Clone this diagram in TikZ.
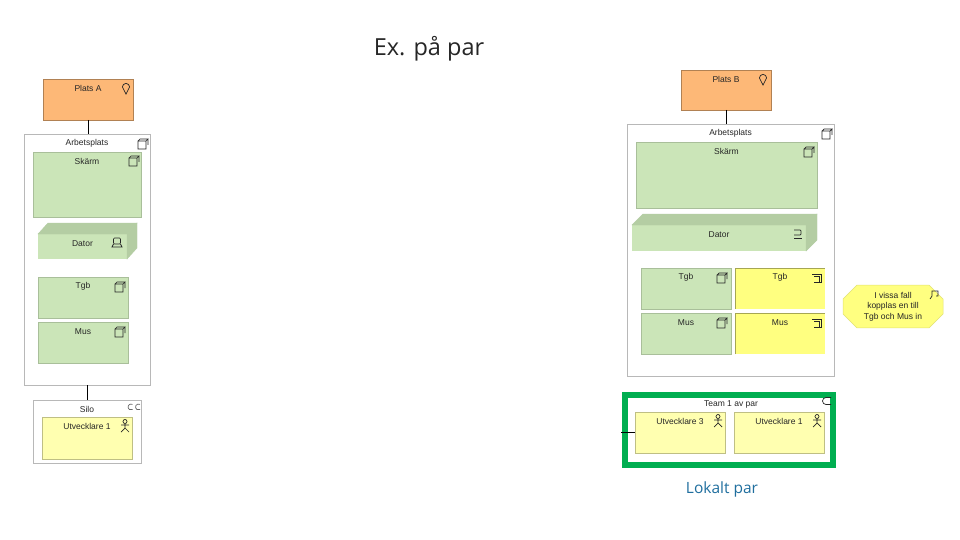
\documentclass[tikz,border=0pt]{standalone}
\usepackage{fontspec}
\setmainfont{Liberation Sans}
\newfontfamily\titlefont{Open Sans}
\usetikzlibrary{shapes.misc,calc}
\definecolor{platsc}{HTML}{FDB877}
\definecolor{gronc}{HTML}{CBE5B8}
\definecolor{gronm}{HTML}{B4CDA3}
\definecolor{gronk}{HTML}{A9BF9A}
\definecolor{gulc}{HTML}{FFFF80}
\definecolor{blekc}{HTML}{FFFFB0}
\definecolor{ramc}{HTML}{00AE50}
\definecolor{blac}{HTML}{1F6E9E}
\tikzset{
  boxbase/.style={anchor=north west,inner sep=0pt,outer sep=0pt,line width=0.9pt},
  boxlabel/.style={label={[anchor=center,yshift=-9.5pt,inner sep=0pt,font=\fontsize{8.5}{10}\selectfont,text=black!85]north:#1}},
  platsbox/.style={boxbase,fill=platsc,draw=black!30!platsc,boxlabel=#1},
  vitbox/.style={boxbase,fill=white,draw=black!28,boxlabel=#1},
  gronbox/.style={boxbase,fill=gronc,draw=gronk,boxlabel=#1},
  gulbox/.style={boxbase,fill=gulc,boxlabel=#1},
  blekbox/.style={boxbase,fill=blekc,draw=black!25!blekc,boxlabel=#1},
  kant/.style={line width=0.7pt,draw=black!35!gulc},
  koppling/.style={line width=0.8pt,black},
  ikon/.style={line width=0.7pt,black!85},
  sida/.style={fill=gronm,draw=gronm,line width=0.4pt},
  nodikon/.pic={\draw[ikon] (-5,-3) rectangle (3,5) (-5,-3)--(-3,-5)--(5,-5)--(3,-3) (5,-5)--(5,1);},
  gulikon/.pic={\draw[ikon] (-5,-4)--(4,-4)--(4,4)--(-3,4) (-3,-1.5)--(2.5,-1.5)--(2.5,4);},
  ballongikon/.pic={\draw[ikon] (0,6)--(-3.6,-1) arc[start angle=180,end angle=360,radius=3.6]--cycle;},
  datorikon/.pic={\draw[ikon,rounded corners=1pt] (-3.5,-5) rectangle (3.5,1); \draw[ikon] (-3.5,1)--(-5,4)--(5,4)--(3.5,1);},
  datorhikon/.pic={\draw[ikon,rounded corners=1pt] (-4,-4)--(3,-4)--(3,1)--(-4,1); \draw[ikon] (-4,4)--(4,4);},
  aktorikon/.pic={\draw[ikon] (0,-4.5) circle[radius=2] (0,-2.5)--(0,2) (-4,-1)--(4,-1) (-4,6)--(0,2)--(4,6);},
  samikon/.pic={\draw[ikon,black!60] (-1.5,-2.6) arc[start angle=-60,end angle=-300,radius=3] (6,-2.6) arc[start angle=-60,end angle=-300,radius=3];},
  teamikon/.pic={\draw[ikon] (5,-3.5)--(0,-3.5) arc[start angle=270,end angle=90,radius=3.5]--(5,3.5);},
  noteikon/.pic={\draw[ikon] (-4,4)--(-2,1)--(-2,-4)--(4,-4)--(4,1)--(2,1);}
}

\begin{document}
\begin{tikzpicture}[x=1pt,y=-1pt]
  \useasboundingbox (0,0) rectangle (960,540);
  \node[font=\titlefont\fontsize{23.5}{28}\selectfont,text=black!85] (rubrik) at (429,49) {Ex. på par};

  % plats A
  \node[platsbox=Plats A,minimum width=90pt,minimum height=41pt] (platsa) at (43,79) {};
  \node[vitbox=Arbetsplats,minimum width=126pt,minimum height=251pt] (arbetsa) at (24,134) {};
  \node[gronbox=Skärm,minimum width=108pt,minimum height=65pt] (skarma) at (33,152) {};
  \node[boxbase,fill=gronc,boxlabel=Dator,minimum width=89pt,minimum height=25pt] (datora) at (38,234) {};
  \fill[sida] (datora.north west)--++(10,-11)--++(89,0)--(datora.north east)--cycle;
  \fill[sida] (datora.north east)--++(10,-11)--++(0,25)--(datora.south east)--cycle;
  \node[gronbox=Tgb,minimum width=90pt,minimum height=41pt] (tgba) at (38,277) {};
  \node[gronbox=Mus,minimum width=90pt,minimum height=41pt] (musa) at (38,322) {};
  \node[vitbox=Silo,minimum width=108pt,minimum height=63pt] (silo) at (33,400) {};
  \node[blekbox=Utvecklare 1,minimum width=90pt,minimum height=42pt] (utva) at (42,417) {};
  \draw[koppling] (platsa.south)--(platsa.south |- arbetsa.north);
  \draw[koppling] (arbetsa.south)--(arbetsa.south |- silo.north);

  % plats B
  \node[platsbox=Plats B,minimum width=90pt,minimum height=40pt] (platsb) at (681,70) {};
  \node[vitbox=Arbetsplats,minimum width=207pt,minimum height=252pt] (arbetsb) at (627,124) {};
  \node[gronbox=Skärm,minimum width=181pt,minimum height=66pt] (skarmb) at (636,142) {};
  \node[boxbase,fill=gronc,boxlabel=Dator,minimum width=174pt,minimum height=26pt] (datorb) at (632,225) {};
  \fill[sida] (datorb.north west)--++(11,-11)--++(174,0)--(datorb.north east)--cycle;
  \fill[sida] (datorb.north east)--++(11,-11)--++(0,26)--(datorb.south east)--cycle;
  \node[gronbox=Tgb,minimum width=90pt,minimum height=41pt] (tgbb) at (641,268) {};
  \node[gronbox=Mus,minimum width=90pt,minimum height=41pt] (musb) at (641,313) {};
  \node[gulbox=Tgb,minimum width=90pt,minimum height=41pt] (tgbc) at (735,268) {};
  \node[gulbox=Mus,minimum width=90pt,minimum height=41pt] (musc) at (735,313) {};
  \foreach \n in {tgbc,musc}
    \draw[kant] (\n.south west)--(\n.north west)--(\n.north east);
  \node[chamfered rectangle,chamfered rectangle xsep=7pt,chamfered rectangle ysep=7pt,fill=gulc,draw=black!12!gulc,line width=0.5pt,inner sep=0pt,minimum width=100pt,minimum height=41pt,align=center,font=\fontsize{8.5}{10.5}\selectfont,text=black!85] (notis) at (893,306.5) {I vissa fall\\kopplas en till\\Tgb och Mus in};
  \node[boxbase,draw=ramc,line width=5.5pt,fill=white,minimum width=208pt,minimum height=70pt,boxlabel=\hspace{4pt}Team 1 av par] (team) at (625,395) {};
  \node[blekbox=Utvecklare 3,minimum width=90pt,minimum height=41pt] (utvb) at (635,412) {};
  \node[blekbox=Utvecklare 1,minimum width=90pt,minimum height=41pt] (utvc) at (734,412) {};
  \coordinate (stubbe) at (621,432.5);
  \draw[koppling] (platsb.south)--(platsb.south |- arbetsb.north);
  \draw[koppling] (stubbe)--(utvb.west);
  \node[font=\titlefont\fontsize{15.5}{18}\selectfont,text=blac] (lokalt) at (722,489) {Lokalt par};

  % ikoner
  \pic at (126,88) {ballongikon};
  \pic at (143,144) {nodikon};
  \pic at (134,161) {nodikon};
  \pic at (117,243) {datorikon};
  \pic at (120,287) {nodikon};
  \pic at (120,332) {nodikon};
  \pic at (134,407) {samikon};
  \pic at (125,426) {aktorikon};
  \pic at (763,79) {ballongikon};
  \pic at (827,134) {nodikon};
  \pic at (809,152) {nodikon};
  \pic at (798,234) {datorhikon};
  \pic at (722,278) {nodikon};
  \pic at (722,323) {nodikon};
  \pic at (817,278) {gulikon};
  \pic at (817,323) {gulikon};
  \pic at (934,295) {noteikon};
  \pic at (826,401) {teamikon};
  \pic at (718,421) {aktorikon};
  \pic at (817,421) {aktorikon};
\end{tikzpicture}
\end{document}
